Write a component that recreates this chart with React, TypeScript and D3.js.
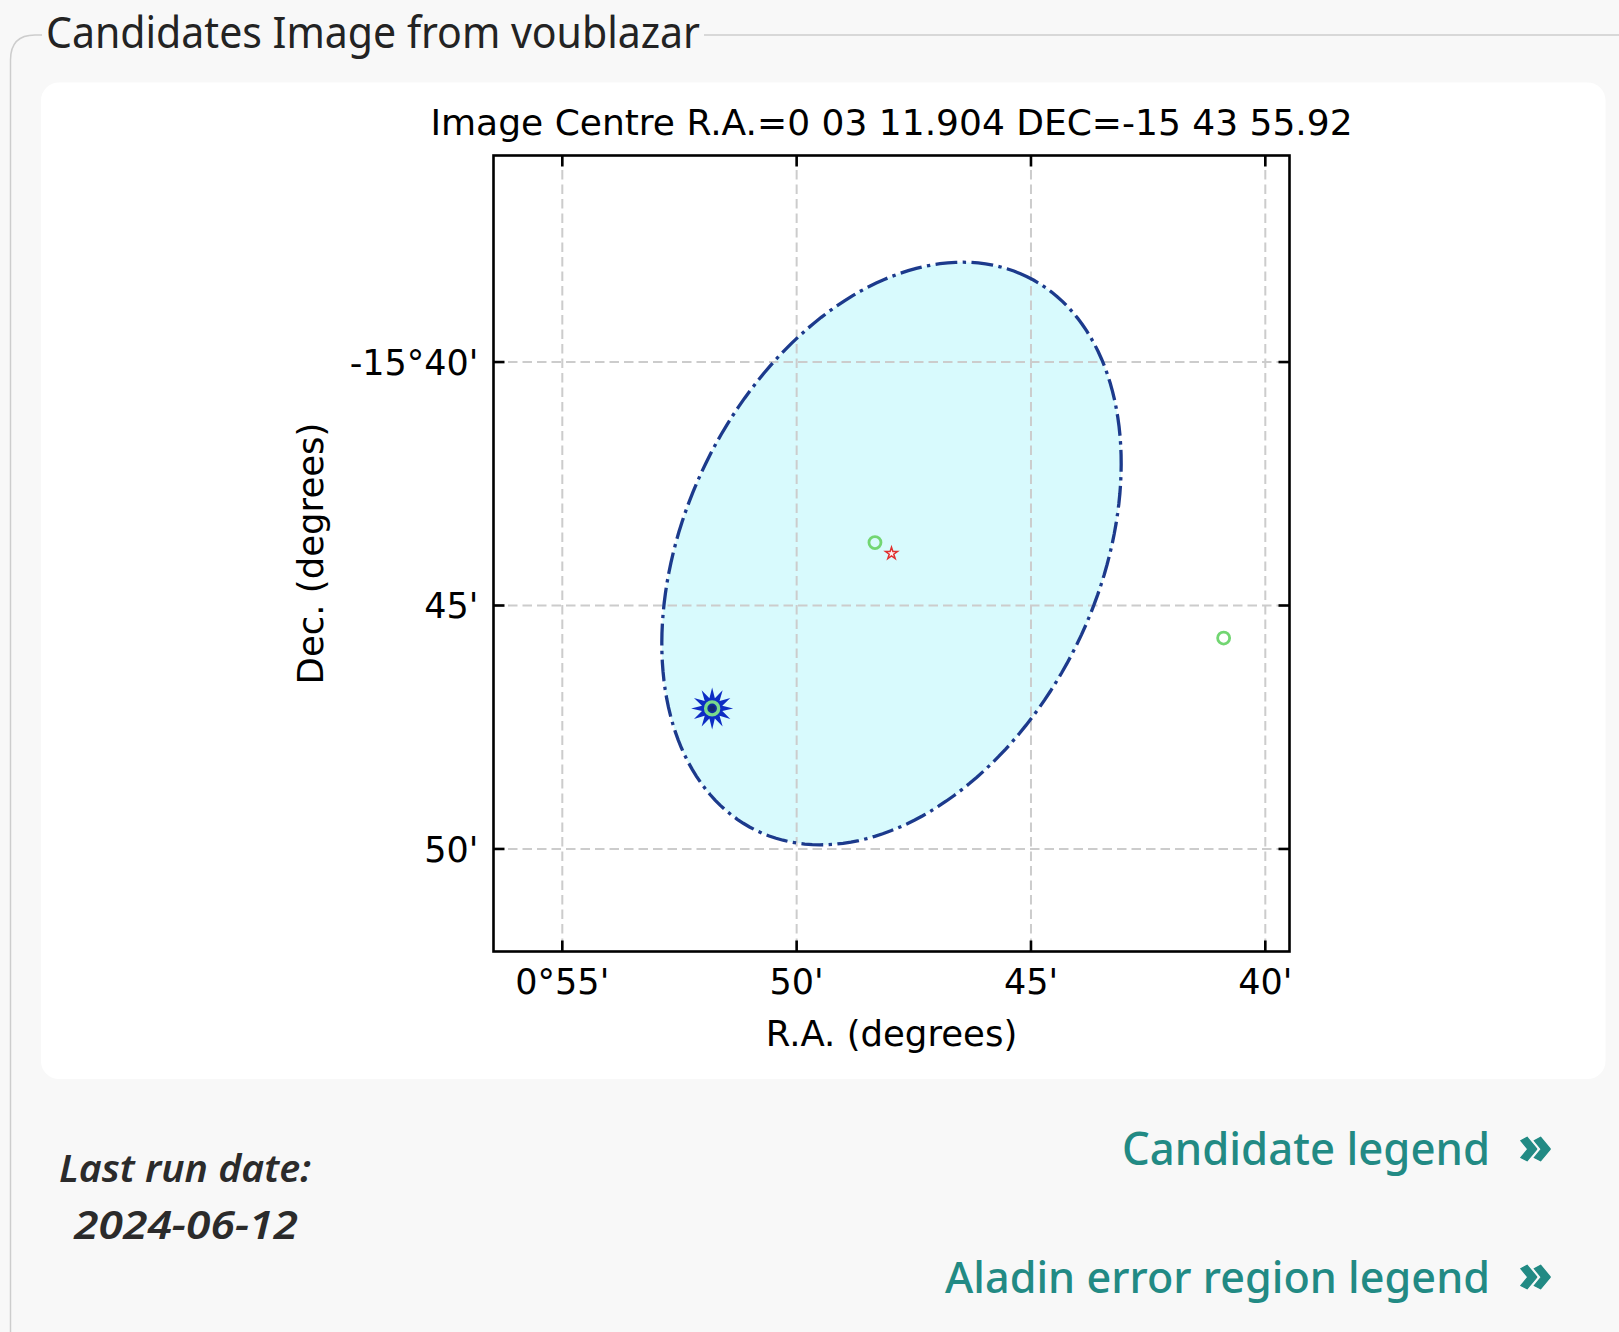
import React from "react";
import * as d3 from "d3";

// ---------- data ----------
const imageCentreRA = (3 * 60 + 11.904) / 3600 * 15; // degrees (0h03m11.904s)
const imageCentreDec = -(15 + 43 / 60 + 55.92 / 3600); // degrees
const fieldHalfArcmin = 8.174; // half size of the image, arcmin on sky

const raTicks = [55 / 60, 50 / 60, 45 / 60, 40 / 60];
const raTickLabels = ["0°55'", "50'", "45'", "40'"];
const decTicks = [-(15 + 40 / 60), -(15 + 45 / 60), -(15 + 50 / 60)];
const decTickLabels = ["-15°40'", "45'", "50'"];

// error ellipse (arcmin, position angle deg east of north)
const ellipseSemiMajor = 6.33;
const ellipseSemiMinor = 4.24;
const ellipsePA = -26.1;

// candidates (degrees)
const greenRA = [48.329 / 60, 40.889 / 60];
const greenDec = [-(15 + 43.708 / 60), -(15 + 45.669 / 60)];
const blazarRA = [51.803 / 60];
const blazarDec = [-(15 + 47.113 / 60)];
const sourceRA = [imageCentreRA];
const sourceDec = [imageCentreDec];

const titleText = "Image Centre R.A.=0 03 11.904 DEC=-15 43 55.92";
const legendLinks = ["Candidate legend", "Aladin error region legend"];

// ---------- layout ----------
const W = 1619;
const H = 1332;
const cosDec = Math.cos((imageCentreDec * Math.PI) / 180);
const raHalf = fieldHalfArcmin / 60 / cosDec;
const decHalf = fieldHalfArcmin / 60;

const x = d3
  .scaleLinear()
  .domain([imageCentreRA + raHalf, imageCentreRA - raHalf])
  .range([493.5, 1289.5]);
const y = d3
  .scaleLinear()
  .domain([imageCentreDec + decHalf, imageCentreDec - decHalf])
  .range([155.5, 951.5]);

const chartFont = "'DejaVu Sans', sans-serif";
const pageFont = "'Noto Sans', Lato, sans-serif";

function ellipsePath() {
  const pa = (ellipsePA * Math.PI) / 180;
  const pts: [number, number][] = d3.range(0, 361, 2).map((deg) => {
    const t = (deg * Math.PI) / 180;
    const north = ellipseSemiMajor * Math.cos(t) * Math.cos(pa) - ellipseSemiMinor * Math.sin(t) * Math.sin(pa);
    const east = ellipseSemiMajor * Math.cos(t) * Math.sin(pa) + ellipseSemiMinor * Math.sin(t) * Math.cos(pa);
    const ra = imageCentreRA + east / 60 / cosDec;
    const dec = imageCentreDec + north / 60;
    return [x(ra), y(dec)];
  });
  return d3.line().curve(d3.curveLinearClosed)(pts) as string;
}

function burstPath(points: number, rOut: number, rIn: number) {
  const data = d3.range(points * 2).map((i) => [
    (i * Math.PI) / points,
    i % 2 === 0 ? rOut : rIn,
  ]) as [number, number][];
  return d3.lineRadial().curve(d3.curveLinearClosed)(data) as string;
}

const linkLayout = [
  { x: 1122, y: 1164.5, len: 368, size: 46 },
  { x: 945, y: 1292.5, len: 545, size: 44 },
];

export default function App() {
  const [x0, x1] = x.range();
  const [y0, y1] = y.range();
  const tickLen = 11;
  const starPath = d3.symbol(d3.symbolStar, 44)() as string;
  return (
    <div style={{ position: "absolute", left: 0, top: 0, width: W, height: H }}>
      <svg width={W} height={H} viewBox={`0 0 ${W} ${H}`} style={{ display: "block" }}>
        <rect x={0} y={0} width={W} height={H} fill="#f8f8f8" />
        {/* fieldset border */}
        <path
          d={`M10.5,${H + 10} L10.5,60 Q10.5,35 35,35 L42,35 M704,35 L${W},35`}
          fill="none"
          stroke="#cdcdcd"
          strokeWidth={1.5}
        />
        <text
          x={46}
          y={47.5}
          fontFamily={pageFont}
          fontSize={44}
          fill="#232323"
          textLength={654}
          lengthAdjust="spacingAndGlyphs"
        >
          Candidates Image from voublazar
        </text>
        {/* white panel */}
        <rect x={41} y={82.5} width={1564.5} height={996.5} rx={18} fill="#ffffff" />

        {/* title */}
        <text x={(x0 + x1) / 2} y={135} textAnchor="middle" fontFamily={chartFont} fontSize={36} fill="#000">
          {titleText}
        </text>

        {/* ellipse fill */}
        <path d={ellipsePath()} fill="#d8fafd" stroke="none" />

        {/* grid */}
        <g stroke="#cccccc" strokeWidth={2} strokeDasharray="9.5 5">
          {raTicks.map((t, i) => (
            <line key={"gx" + i} x1={x(t)} x2={x(t)} y1={y0} y2={y1} />
          ))}
          {decTicks.map((t, i) => (
            <line key={"gy" + i} x1={x0} x2={x1} y1={y(t)} y2={y(t)} />
          ))}
        </g>

        {/* ellipse outline */}
        <path
          d={ellipsePath()}
          fill="none"
          stroke="#1c3a8c"
          strokeWidth={3.3}
          strokeDasharray="21.8 5.4 3.4 5.4"
        />

        {/* candidates */}
        {greenRA.map((ra, i) => (
          <circle key={"g" + i} cx={x(ra)} cy={y(greenDec[i])} r={6} fill="none" stroke="#72d672" strokeWidth={2.8} />
        ))}
        {sourceRA.map((ra, i) => (
          <path
            key={"s" + i}
            d={starPath}
            transform={`translate(${x(ra)},${y(sourceDec[i])})`}
            fill="#fff0f0"
            stroke="#e0302f"
            strokeWidth={1.5}
          />
        ))}
        {blazarRA.map((ra, i) => (
          <g key={"b" + i} transform={`translate(${x(ra)},${y(blazarDec[i])})`}>
            <path d={burstPath(12, 21, 10.5)} fill="#0d2cc4" />
            <circle r={6.5} fill="#0d2c9e" stroke="#7ad98c" strokeWidth={3.4} />
            <circle r={2.8} fill="#14286e" />
          </g>
        ))}

        {/* frame */}
        <rect x={x0} y={y0} width={x1 - x0} height={y1 - y0} fill="none" stroke="#000" strokeWidth={2.6} />
        {/* ticks */}
        <g stroke="#000" strokeWidth={2.6}>
          {raTicks.map((t, i) => (
            <g key={"tx" + i}>
              <line x1={x(t)} x2={x(t)} y1={y1} y2={y1 - tickLen} />
              <line x1={x(t)} x2={x(t)} y1={y0} y2={y0 + tickLen} />
            </g>
          ))}
          {decTicks.map((t, i) => (
            <g key={"ty" + i}>
              <line x1={x0} x2={x0 + tickLen} y1={y(t)} y2={y(t)} />
              <line x1={x1} x2={x1 - tickLen} y1={y(t)} y2={y(t)} />
            </g>
          ))}
        </g>
        {/* tick labels */}
        <g fontFamily={chartFont} fontSize={35} fill="#000">
          {raTicks.map((t, i) => (
            <text key={"lx" + i} x={x(t)} y={y1 + 42} textAnchor="middle">
              {raTickLabels[i]}
            </text>
          ))}
          {decTicks.map((t, i) => (
            <text key={"ly" + i} x={x0 - 15} y={y(t) + 12.8} textAnchor="end">
              {decTickLabels[i]}
            </text>
          ))}
        </g>
        {/* axis labels */}
        <text x={(x0 + x1) / 2} y={1046} textAnchor="middle" fontFamily={chartFont} fontSize={35.5} fill="#000">
          R.A. (degrees)
        </text>
        <text
          transform={`translate(323,${(y0 + y1) / 2}) rotate(-90)`}
          textAnchor="middle"
          fontFamily={chartFont}
          fontSize={35.5}
          fill="#000"
        >
          Dec. (degrees)
        </text>

        {/* footer */}
        <text
          x={59}
          y={1182}
          fontFamily={pageFont}
          fontStyle="italic"
          fontWeight={600}
          fontSize={38}
          fill="#2b2b2b"
          textLength={252}
          lengthAdjust="spacingAndGlyphs"
        >
          Last run date:
        </text>
        <text
          x={74}
          y={1239}
          fontFamily={pageFont}
          fontStyle="italic"
          fontWeight={600}
          fontSize={39}
          fill="#2b2b2b"
          textLength={224}
          lengthAdjust="spacingAndGlyphs"
        >
          2024-06-12
        </text>
        {legendLinks.map((label, i) => (
          <g key={"link" + i}>
            <text
              x={linkLayout[i].x}
              y={linkLayout[i].y}
              fontFamily={pageFont}
              fill="#228a84"
              fontWeight={500}
              fontSize={linkLayout[i].size}
              textLength={linkLayout[i].len}
              lengthAdjust="spacingAndGlyphs"
            >
              {label}
            </text>
            <text
              x={1519}
              y={linkLayout[i].y - 1.5}
              fontFamily={pageFont}
              fill="#228a84"
              fontWeight={800}
              fontSize={50}
              stroke="#228a84"
              strokeWidth={1.2}
              textLength={33}
              lengthAdjust="spacingAndGlyphs"
            >
              »
            </text>
          </g>
        ))}
      </svg>
    </div>
  );
}
